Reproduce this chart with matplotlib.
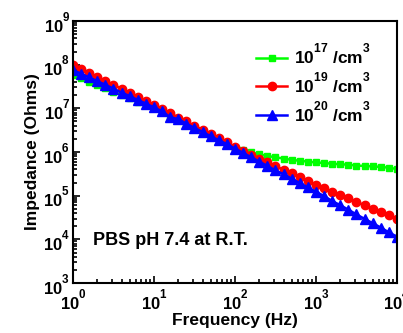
import numpy as np
import matplotlib
matplotlib.use("Agg")
import matplotlib.pyplot as plt
import matplotlib._mathtext as mt

plt.rcParams['font.family'] = 'Liberation Sans'
plt.rcParams['font.weight'] = 'bold'
plt.rcParams['mathtext.fontset'] = 'custom'
plt.rcParams['mathtext.rm'] = 'Liberation Sans:bold'
plt.rcParams['mathtext.bf'] = 'Liberation Sans:bold'
plt.rcParams['mathtext.it'] = 'Liberation Sans:bold'
# raise the exponents a bit more, like the original plot
mt.FontConstantsBase.sup1 = 1.25

# frequency sweep (Hz), 10 points per decade
freq = [1.0, 1.26, 1.58, 2.0, 2.51, 3.16, 3.98, 5.01, 6.31, 7.94,
        10.0, 12.6, 15.8, 20.0, 25.1, 31.6, 39.8, 50.1, 63.1, 79.4,
        100.0, 126, 158, 200, 251, 316, 398, 501, 631, 794,
        1000, 1260, 1580, 2000, 2510, 3160, 3980, 5010, 6310, 7940,
        10000]

# log10 of impedance (Ohms)
logZ_17 = [7.76, 7.69, 7.61, 7.54, 7.46, 7.38, 7.31, 7.23, 7.15, 7.08,
           7.00, 6.91, 6.82, 6.73, 6.64, 6.55, 6.46, 6.37, 6.28, 6.19,
           6.10, 6.04, 5.99, 5.95, 5.91, 5.88, 5.85, 5.82, 5.80, 5.78,
           5.76, 5.75, 5.73, 5.72, 5.71, 5.69, 5.68, 5.67, 5.66, 5.64,
           5.61]
logZ_19 = [8.00, 7.91, 7.82, 7.72, 7.63, 7.54, 7.45, 7.36, 7.27, 7.17,
           7.08, 6.99, 6.89, 6.79, 6.70, 6.60, 6.51, 6.41, 6.31, 6.22,
           6.12, 6.03, 5.94, 5.85, 5.77, 5.68, 5.59, 5.51, 5.42, 5.34,
           5.25, 5.17, 5.09, 5.01, 4.94, 4.86, 4.78, 4.70, 4.63, 4.55,
           4.47]
logZ_20 = [7.88, 7.79, 7.71, 7.62, 7.54, 7.45, 7.36, 7.28, 7.19, 7.11,
           7.02, 6.93, 6.80, 6.75, 6.65, 6.55, 6.46, 6.36, 6.27, 6.18,
           6.08, 5.98, 5.88, 5.78, 5.68, 5.58, 5.49, 5.39, 5.29, 5.19,
           5.09, 4.99, 4.88, 4.78, 4.68, 4.57, 4.47, 4.37, 4.27, 4.16,
           4.06]

labels = [r'10$^{17}$ /cm$^3$', r'10$^{19}$ /cm$^3$', r'10$^{20}$ /cm$^3$']

f = np.array(freq)
fig = plt.figure(figsize=(4.03, 3.33), dpi=100)
ax = fig.add_axes([0.181, 0.150, 0.804, 0.787])

ax.plot(f, 10 ** np.array(logZ_17), color='#00ff00', marker='s', ms=5, lw=1.8,
        label=labels[0])
ax.plot(f, 10 ** np.array(logZ_19), color='#ff0000', marker='o', ms=6, lw=1.8,
        label=labels[1])
ax.plot(f, 10 ** np.array(logZ_20), color='#0000ff', marker='^', ms=6.5, lw=1.8,
        label=labels[2])

ax.set_xscale('log')
ax.set_yscale('log')
ax.set_xlim(1, 1e4)
ax.set_ylim(1e3, 1e9)

for s in ax.spines.values():
    s.set_linewidth(1.5)
ax.tick_params(which='both', direction='in', top=False, right=False, width=1.2)
ax.tick_params(which='major', length=5, labelsize=12)
ax.tick_params(axis='x', which='major', pad=3.5)
ax.tick_params(axis='y', which='major', pad=2)
ax.tick_params(which='minor', length=3)

xt = [1, 10, 100, 1000, 10000]
ax.set_xticks(xt)
ax.set_xticklabels([r'$\mathregular{10^{%d}}$' % i for i in range(5)])
yt = [10 ** i for i in range(3, 10)]
ax.set_yticks(yt)
ax.set_yticklabels([r'$\mathregular{10^{%d}}$' % i for i in range(3, 10)])

ax.set_xlabel('Frequency (Hz)', fontsize=12.5, fontweight='bold', labelpad=0)
ax.set_ylabel('Impedance (Ohms)', fontsize=12.5, fontweight='bold', labelpad=2)

ax.text(0.062, 0.164, 'PBS pH 7.4 at R.T.', transform=ax.transAxes,
        fontsize=13, fontweight='bold', va='center', ha='left')

leg = ax.legend(loc='upper left', bbox_to_anchor=(0.565, 0.92), frameon=False,
                fontsize=12.5, handlelength=1.8, numpoints=1, handletextpad=0.4,
                labelspacing=0.22, borderaxespad=0, borderpad=0)

fig.savefig('out.png', dpi=100)
